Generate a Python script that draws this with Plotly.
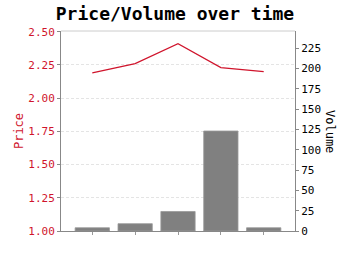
import plotly.graph_objects as go

periods = [0, 1, 2, 3, 4]
prices = [2.19, 2.26, 2.41, 2.23, 2.20]
volumes = [4, 9, 24, 123, 4]

FONT = "DejaVu Sans Mono"
RED = "#d0142c"

fig = go.Figure()
fig.add_trace(go.Bar(x=periods, y=volumes, yaxis="y2", width=0.8,
                     marker=dict(color="#808080", line=dict(color="#999999", width=0.8)),
                     showlegend=False))
fig.add_trace(go.Scatter(x=periods, y=prices, yaxis="y", mode="lines",
                         line=dict(color=RED, width=1.2), showlegend=False))

fig.update_layout(
    width=350, height=255,
    margin=dict(l=61, r=55, t=31, b=24),
    paper_bgcolor="white", plot_bgcolor="white",
    font=dict(family=FONT, size=11, color="black"),
    title=dict(text="<b>Price/Volume over time</b>", x=0.5, xanchor="center",
               y=0.945, yanchor="middle", font=dict(family=FONT, size=18, color="black")),
    xaxis=dict(range=[-0.73, 4.73], tickvals=periods, ticktext=["" for _ in periods],
               ticks="outside", ticklen=3, tickcolor="#999999",
               showline=True, linecolor="#888888", linewidth=1,
               showgrid=False, zeroline=False),
    yaxis=dict(range=[1.0, 2.505], dtick=0.25, tick0=1.0, tickformat=".2f",
               tickfont=dict(color=RED, size=11, family=FONT),
               title=dict(text="Price", font=dict(color=RED, size=12, family=FONT), standoff=2),
               ticks="outside", ticklen=3, tickcolor="#888888",
               showline=True, linecolor="#888888", linewidth=1,
               showgrid=True, gridcolor="#e4e4e4", griddash="3px,2px", gridwidth=1,
               zeroline=False),
    yaxis2=dict(range=[0, 246], dtick=25, overlaying="y", side="right",
                tickfont=dict(color="black", size=11, family=FONT),
                ticks="outside", ticklen=3, tickcolor="#888888",
                showline=True, linecolor="#888888", linewidth=1,
                showgrid=False, zeroline=False),
    annotations=[dict(text="Volume", xref="paper", yref="paper", x=1, y=0.5,
                      xanchor="center", yanchor="middle", xshift=35, textangle=90,
                      showarrow=False, font=dict(color="black", size=12, family=FONT))],
    shapes=[dict(type="line", xref="paper", yref="paper", x0=0, x1=1, y0=1, y1=1,
                 line=dict(color="#cccccc", width=1))],
)

fig.write_html("out.html")
